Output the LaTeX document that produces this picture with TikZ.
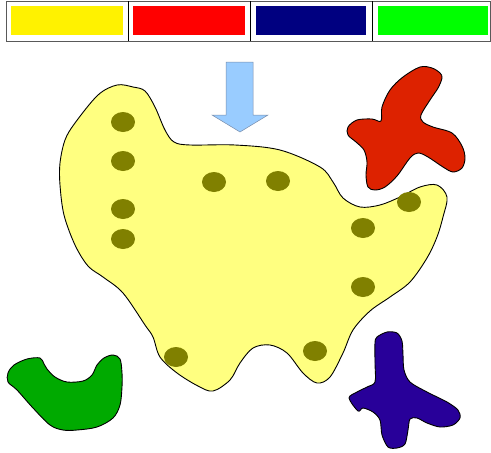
\documentclass[tikz,border=0pt]{standalone}
\usetikzlibrary{shapes.geometric}
\begin{document}
\begin{tikzpicture}[x=1pt,y=-1pt,
  blob/.style={draw=black,line width=0.9pt,line join=round},
  dot/.style={fill=dotolive,draw=none,ellipse,minimum width=24pt,minimum height=20pt,inner sep=0pt},
  swatch/.style={draw=none},
  cellrule/.style={draw=black,line width=0.8pt}]
\definecolor{dotolive}{RGB}{128,128,0}
\definecolor{blobyellow}{RGB}{255,255,128}
\definecolor{blobred}{RGB}{221,34,0}
\definecolor{blobgreen}{RGB}{0,170,0}
\definecolor{blobblue}{RGB}{40,0,153}
\definecolor{arrowblue}{RGB}{153,204,255}
\definecolor{arrowline}{RGB}{120,140,170}
\definecolor{navy}{RGB}{0,0,128}
\useasboundingbox (0,0) rectangle (491,453);
% top bar
\draw[gray!70!black,line width=0.9pt] (6,1) rectangle (490,41);
\draw[cellrule] (128,1) -- (128,41);
\draw[cellrule] (250,1) -- (250,41);
\draw[cellrule] (372,1) -- (372,41);
\fill[yellow] (11,6) rectangle (123,35);
\fill[red] (133,6) rectangle (245,35);
\fill[navy] (256,6) rectangle (366,35);
\fill[green] (378,6) rectangle (488,35);
% arrow
\draw[fill=arrowblue,draw=arrowline,line width=0.5pt]
  (226,62) -- (253,62) -- (253,115) -- (268,115) -- (240,132) -- (212,115) -- (226,115) -- cycle;
% yellow blob
\draw[blob,fill=blobyellow] plot[smooth cycle,tension=0.55] coordinates {
  (60,163) (65,140) (75,123) (98,95) (117,85) (133,87) (145,91) (155,107) (165,130)
  (174,142) (190,145) (235,145) (280,150) (320,167) (333,182) (343,198) (360,207)
  (380,205) (400,197) (420,187) (437,185) (447,197) (443,217) (437,237) (427,258)
  (410,282) (390,297) (370,311) (353,330) (343,353) (330,377) (317,383) (303,373)
  (287,353) (270,345) (253,348) (240,363) (230,380) (213,391) (198,386) (177,373)
  (160,357) (153,337) (145,325) (123,293) (103,277) (88,266) (75,245) (64,215) (60,185)};
% dots
\foreach \p/\n in {(123,122)/d1,(123,161)/d2,(123,209)/d3,(123,239)/d4,(214,182)/d5,(278,181)/d6,
  (409,202)/d7,(363,228)/d8,(363,287)/d9,(315,351)/d10,(176,357)/d11}
  \node[dot] (\n) at \p {};
% red blob
\draw[blob,fill=blobred] plot[smooth cycle,tension=0.55] coordinates {
  (440,73) (432,68) (420,67) (403,77) (390,90) (382,107) (381,121) (372,119) (357,120)
  (348,127) (348,135) (356,142) (364,150) (367,162) (366,175) (368,187) (375,190)
  (385,187) (397,176) (410,158) (418,153) (428,157) (443,167) (453,172) (462,168)
  (465,158) (462,146) (452,133) (433,127) (423,122) (421,115) (430,100) (438,88) (442,78)};
% green blob
\draw[blob,fill=blobgreen] plot[smooth cycle,tension=0.55] coordinates {
  (8,373) (14,365) (27,359) (40,358) (44,364) (47,369) (55,377) (67,382) (83,381)
  (92,375) (97,365) (104,358) (113,355) (120,359) (122,373) (122,387) (120,405)
  (113,418) (97,427) (77,430) (63,430) (50,425) (33,408) (17,390) (8,382)};
% blue blob
\draw[blob,fill=blobblue] plot[smooth cycle,tension=0.5] coordinates {
  (377,337) (387,332) (397,333) (402,341) (403,355) (404,370) (410,382) (427,392)
  (447,402) (458,410) (460,418) (453,425) (440,427) (427,423) (417,418) (410,419)
  (408,430) (405,444) (397,448) (388,447) (382,435) (380,420) (373,412) (363,408)
  (358,411) (349,398) (357,392) (367,387) (375,382) (375,363) (375,343)};
\end{tikzpicture}
\end{document}
